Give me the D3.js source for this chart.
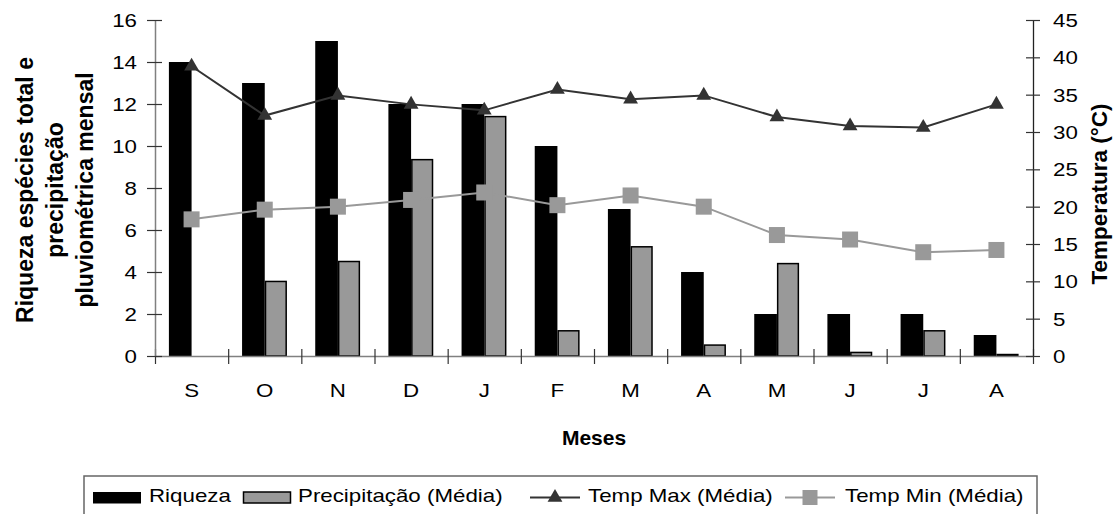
<!DOCTYPE html>
<html>
<head>
<meta charset="utf-8">
<script src="https://cdn.jsdelivr.net/npm/d3@7"></script>
<style>
  html, body { margin: 0; padding: 0; background: #fff; }
  svg { display: block; font-family: "Liberation Sans", Arial, sans-serif; }
</style>
</head>
<body>
<svg id="chart" width="1115" height="514"></svg>
<script>
// Months (September to August)
const months = ["S", "O", "N", "D", "J", "F", "M", "A", "M", "J", "J", "A"];
// Species richness per month
const riqueza = [14, 13, 15, 12, 12, 10, 7, 4, 2, 2, 2, 1];
// Mean monthly rainfall (plotted on the left axis scale)
const precipitacao = [0, 3.55, 4.5, 9.35, 11.4, 1.2, 5.2, 0.52, 4.4, 0.17, 1.2, 0.07];
// Mean maximum and minimum temperatures (°C, right axis)
const tempMax = [38.8, 32.2, 34.9, 33.7, 32.9, 35.7, 34.4, 34.9, 32.0, 30.8, 30.6, 33.7];
const tempMin = [18.3, 19.6, 20.0, 20.9, 21.9, 20.2, 21.5, 20.0, 16.2, 15.6, 13.9, 14.2];
// Axis ticks
const leftTicks = [0, 2, 4, 6, 8, 10, 12, 14, 16];
const rightTicks = [0, 5, 10, 15, 20, 25, 30, 35, 40, 45];
// Legend entries
const legendLabels = ["Riqueza", "Precipitação (Média)", "Temp Max (Média)", "Temp Min (Média)"];

const svg = d3.select("#chart");
const plot = { left: 155, right: 1033, top: 20, bottom: 356 };
const FS = 18;      // label font size
const KX = 1.24;    // horizontal stretch of label text

const x = d3.scaleBand().domain(d3.range(months.length)).range([plot.left, plot.right]).padding(0);
const xEdge = d3.scaleLinear().domain([0, months.length]).range([plot.left, plot.right]);
const yL = d3.scaleLinear().domain([0, 16]).range([plot.bottom, plot.top]);
const yR = d3.scaleLinear().domain([0, 45]).range([plot.bottom, plot.top]);
const cx = i => x(i) + x.bandwidth() / 2;
const barW = x.bandwidth() * 0.31;

// Bars: richness (black) and rainfall (grey)
svg.append("g").selectAll("rect").data(riqueza).join("rect")
  .attr("x", (d, i) => cx(i) - barW)
  .attr("y", d => yL(d))
  .attr("width", barW)
  .attr("height", d => yL(0) - yL(d))
  .attr("fill", "#000");

svg.append("g").selectAll("rect").data(precipitacao.map((v, i) => ({ v, i })).filter(d => d.v > 0)).join("rect")
  .attr("x", d => cx(d.i) + 0.75)
  .attr("y", d => yL(d.v))
  .attr("width", barW - 2)
  .attr("height", d => yL(0) - yL(d.v))
  .attr("fill", "#999")
  .attr("stroke", "#000")
  .attr("stroke-width", 1.5);

// Bottom axis: category boundaries with crossing ticks, month labels centred
const xAxisG = svg.append("g").attr("transform", `translate(0,${plot.bottom})`);
xAxisG.call(d3.axisBottom(xEdge).tickValues(d3.range(months.length + 1)).tickFormat("").tickSizeOuter(0));
xAxisG.select(".domain").attr("stroke", "#808080").attr("stroke-width", 1.5);
xAxisG.selectAll(".tick line").attr("y1", -7).attr("y2", 8).attr("stroke", "#333").attr("stroke-width", 1.2);

const xLab = svg.append("g").attr("transform", `translate(0,${plot.bottom})`);
xLab.call(d3.axisBottom(x).tickFormat(i => months[i]).tickSize(0));
xLab.select(".domain").remove();
xLab.selectAll(".tick text")
  .attr("y", 41.5).attr("dy", null)
  .attr("font-size", FS).attr("font-family", "Liberation Sans, Arial, sans-serif")
  .attr("fill", "#000")
  .attr("transform", `scale(${KX},1)`);

// Left axis
const yLG = svg.append("g").attr("transform", `translate(${plot.left},0)`);
yLG.call(d3.axisLeft(yL).tickValues(leftTicks).tickSizeOuter(0));
yLG.select(".domain").attr("stroke", "#808080").attr("stroke-width", 1.5);
yLG.selectAll(".tick line").attr("x1", 7).attr("x2", -8).attr("stroke", "#333").attr("stroke-width", 1.2);
yLG.selectAll(".tick text")
  .attr("x", -18 / KX).attr("dy", "0.36em")
  .attr("font-size", FS).attr("font-family", "Liberation Sans, Arial, sans-serif")
  .attr("fill", "#000")
  .attr("transform", `scale(${KX},1)`);

// Right axis
const yRG = svg.append("g").attr("transform", `translate(${plot.right},0)`);
yRG.call(d3.axisRight(yR).tickValues(rightTicks).tickSizeOuter(0));
yRG.select(".domain").attr("stroke", "#222").attr("stroke-width", 1.3);
yRG.selectAll(".tick line").attr("x1", -7).attr("x2", 7).attr("stroke", "#333").attr("stroke-width", 1.2);
yRG.selectAll(".tick text")
  .attr("x", 20 / KX).attr("dy", "0.36em")
  .attr("font-size", FS).attr("font-family", "Liberation Sans, Arial, sans-serif")
  .attr("fill", "#000")
  .attr("transform", `scale(${KX},1)`);

// Temperature lines
const lineR = d3.line().x((d, i) => cx(i)).y(d => yR(d));
svg.append("path").datum(tempMin).attr("d", lineR)
  .attr("fill", "none").attr("stroke", "#999").attr("stroke-width", 2);
svg.append("path").datum(tempMax).attr("d", lineR)
  .attr("fill", "none").attr("stroke", "#333").attr("stroke-width", 2);

const tri = d3.symbol().type(d3.symbolTriangle).size(95);
svg.append("g").selectAll("path").data(tempMax).join("path")
  .attr("d", tri)
  .attr("transform", (d, i) => `translate(${cx(i)},${yR(d)})`)
  .attr("fill", "#333");
const sq = 16;
svg.append("g").selectAll("rect").data(tempMin).join("rect")
  .attr("x", (d, i) => cx(i) - sq / 2)
  .attr("y", d => yR(d) - sq / 2)
  .attr("width", sq).attr("height", sq)
  .attr("fill", "#999");

// Axis titles
const leftTitle = ["Riqueza espécies total e", "precipitação", "pluviométrica mensal"];
leftTitle.forEach((t, k) => {
  svg.append("text")
    .attr("transform", `translate(${33 + 30 * k},190) rotate(-90)`)
    .attr("text-anchor", "middle")
    .attr("font-size", 23).attr("font-weight", "bold")
    .text(t);
});
svg.append("text")
  .attr("transform", `translate(1107,194) rotate(-90)`)
  .attr("text-anchor", "middle")
  .attr("font-size", 22.5).attr("font-weight", "bold")
  .text("Temperatura (°C)");
svg.append("text")
  .attr("x", (plot.left + plot.right) / 2).attr("y", 445)
  .attr("text-anchor", "middle")
  .attr("font-size", 21).attr("font-weight", "bold")
  .text("Meses");

// Legend
const lg = svg.append("g");
lg.append("rect").attr("x", 84).attr("y", 476).attr("width", 953).attr("height", 60)
  .attr("fill", "none").attr("stroke", "#666").attr("stroke-width", 1.5);
const ly = 497.5;
const ltext = (xp, t) => lg.append("text")
  .attr("transform", `translate(${xp},502) scale(${KX},1)`)
  .attr("font-size", FS).text(t);
lg.append("rect").attr("x", 93).attr("y", ly - 5.5).attr("width", 48).attr("height", 11.5).attr("fill", "#000");
ltext(149, legendLabels[0]);
lg.append("rect").attr("x", 243.5).attr("y", ly - 5.5).attr("width", 47).attr("height", 11)
  .attr("fill", "#999").attr("stroke", "#000").attr("stroke-width", 1.5);
ltext(298, legendLabels[1]);
lg.append("line").attr("x1", 530).attr("x2", 580).attr("y1", ly).attr("y2", ly).attr("stroke", "#333").attr("stroke-width", 2);
lg.append("path").attr("d", tri).attr("transform", `translate(555,${ly})`).attr("fill", "#333");
ltext(588, legendLabels[2]);
lg.append("line").attr("x1", 785).attr("x2", 835).attr("y1", ly).attr("y2", ly).attr("stroke", "#999").attr("stroke-width", 2);
lg.append("rect").attr("x", 802.5).attr("y", ly - 7.5).attr("width", 15).attr("height", 15).attr("fill", "#999");
ltext(845, legendLabels[3]);
</script>
</body>
</html>
